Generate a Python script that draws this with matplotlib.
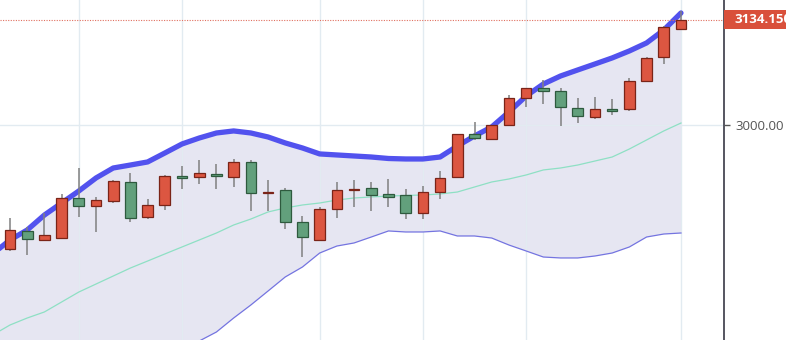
import matplotlib
matplotlib.use("Agg")
import matplotlib.pyplot as plt
import numpy as np
from matplotlib.patches import Rectangle
from matplotlib.transforms import blended_transform_factory, offset_copy

# ---------------- data ----------------
opens = [2842.0, 2865.0, 2853.5, 2856.0, 2907.0, 2896.8, 2903.2, 2927.4, 2882.8, 2898.1,
         2935.0, 2933.8, 2937.6, 2933.8, 2952.9, 2913.4, 2917.2, 2876.4, 2853.5, 2893.0,
         2917.2, 2919.7, 2912.1, 2910.8, 2887.9, 2914.6, 2933.8, 2988.5, 2982.2, 3000.0,
         3034.4, 3047.1, 3043.3, 3021.7, 3010.2, 3020.4, 3020.4, 3056.1, 3086.6, 3122.3]
highs = [2881.5, 2870.1, 2887.9, 2912.1, 2945.2, 2908.3, 2929.9, 2938.8, 2905.7, 2936.3,
         2947.8, 2955.4, 2950.3, 2956.7, 2955.4, 2929.9, 2919.7, 2884.1, 2895.5, 2927.4,
         2929.9, 2927.4, 2931.2, 2918.5, 2922.3, 2941.4, 2988.5, 3003.8, 3000.0, 3038.2,
         3047.1, 3057.3, 3047.1, 3034.4, 3035.7, 3033.1, 3059.9, 3086.6, 3126.1, 3145.2]
lows = [2839.5, 2834.4, 2852.2, 2855.0, 2882.8, 2863.7, 2900.6, 2876.4, 2880.2, 2891.7,
        2918.5, 2924.8, 2918.5, 2921.0, 2890.4, 2890.4, 2867.5, 2831.8, 2853.5, 2881.5,
        2895.5, 2890.4, 2895.5, 2880.2, 2880.2, 2905.7, 2933.8, 2980.9, 2982.2, 3000.0,
        3022.9, 3026.8, 2998.7, 3002.5, 3007.6, 3012.7, 3017.8, 3054.8, 3077.7, 3121.0]
closes = [2866.2, 2854.8, 2859.9, 2907.0, 2896.8, 2904.4, 2928.7, 2881.5, 2898.1, 2935.0,
          2932.5, 2938.8, 2935.0, 2952.9, 2913.4, 2914.6, 2876.4, 2857.3, 2893.0, 2917.2,
          2918.5, 2910.8, 2908.3, 2887.9, 2914.6, 2932.5, 2988.5, 2983.4, 3000.0, 3034.4,
          3047.1, 3043.3, 3022.9, 3011.5, 3020.4, 3017.8, 3056.1, 3085.4, 3124.9, 3134.15]

# Bollinger bands (first value belongs to the bar before the first visible candle)
band_upper = [2836.0, 2853.5, 2866.2, 2885.3, 2900.6, 2915.9, 2932.5, 2945.2, 2949.0, 2952.9,
              2964.3, 2975.8, 2983.4, 2989.8, 2992.4, 2989.8, 2984.7, 2977.1, 2970.7, 2963.1,
              2961.8, 2960.5, 2959.2, 2957.3, 2956.7, 2956.7, 2959.2, 2973.2, 2986.0, 2997.5,
              3016.6, 3036.9, 3052.2, 3062.4, 3070.1, 3077.7, 3085.4, 3094.3, 3104.5, 3121.0,
              3142.7]
band_mid = [2732.5, 2745.2, 2754.1, 2761.8, 2774.5, 2787.2, 2797.4, 2807.6, 2817.8, 2826.7,
            2835.7, 2844.6, 2853.5, 2862.4, 2872.6, 2880.2, 2889.2, 2894.3, 2898.1, 2900.6,
            2904.4, 2907.0, 2908.3, 2909.5, 2910.2, 2910.8, 2912.1, 2914.6, 2921.0, 2927.4,
            2931.2, 2936.3, 2942.7, 2945.2, 2949.0, 2954.1, 2959.2, 2969.4, 2980.9, 2992.4,
            3002.5]
band_lower = [2629.0, 2636.9, 2642.0, 2638.3, 2648.4, 2658.5, 2662.3, 2670.0, 2686.6, 2700.5,
              2707.1, 2713.4, 2724.8, 2736.3, 2754.1, 2770.7, 2788.5, 2806.4, 2819.1, 2836.9,
              2845.8, 2849.7, 2857.3, 2865.0, 2863.7, 2863.7, 2865.0, 2858.6, 2858.6, 2856.0,
              2847.1, 2839.5, 2831.8, 2830.6, 2830.6, 2833.1, 2836.9, 2844.6, 2857.3, 2861.1,
              2862.4]

grid_positions = [4, 10, 18, 24, 30, 39]
y_ticks = [3000.0]
y_tick_labels = ["3000.00"]
last_price_label = "3134.150"

# ---------------- style ----------------
UP_FILL, UP_EDGE = "#dc5641", "#7a2418"
DN_FILL, DN_EDGE = "#62a07c", "#2e5a3e"
WICK = "#808080"
BAND_FILL = "#e6e6f2"
UPPER_C = "#5252ee"
LOWER_C = "#7474e0"
MID_C = "#8ee0c4"
GRID_C = "#e2ebf1"

W, H = 786, 340
fig = plt.figure(figsize=(W / 100, H / 100), dpi=100)
ax = fig.add_axes([0, 0, 724 / W, 1])

n = len(opens)
x = np.arange(n)
xb = np.arange(-1, n)

ax.fill_between(xb, band_lower, band_upper, color=BAND_FILL, zorder=0.2, lw=0)
ax.plot(xb, band_mid, color=MID_C, lw=0.9, zorder=2)
ax.plot(xb, band_lower, color=LOWER_C, lw=0.9, zorder=2)
ax.plot(xb, band_upper, color=UPPER_C, lw=3.8, zorder=2, solid_capstyle="round")

o = np.array(opens); c = np.array(closes); hi = np.array(highs); lo = np.array(lows)
up = c >= o
ax.vlines(x, lo, hi, color=WICK, lw=1.1, zorder=3)
bottoms = np.minimum(o, c)
heights = np.maximum(np.abs(c - o), 0.8)
ax.bar(x[up], heights[up], bottom=bottoms[up], width=0.62, color=UP_FILL,
       edgecolor=UP_EDGE, linewidth=0.9, zorder=4)
ax.bar(x[~up], heights[~up], bottom=bottoms[~up], width=0.62, color=DN_FILL,
       edgecolor=DN_EDGE, linewidth=0.9, zorder=4)

ax.set_xlim(-0.58, 41.5)
ax.set_ylim(2726.1, 3159.2)

# last price line
ax.axhline(closes[-1], color="#e07060", lw=0.8, ls=(0, (1, 1.3)), zorder=2.5)

# grid
ax.set_axisbelow(True)
ax.set_xticks(grid_positions)
ax.set_yticks(y_ticks)
ax.set_yticklabels(y_tick_labels)
ax.grid(True, color=GRID_C, lw=1.0)
ax.tick_params(axis="x", length=0, labelbottom=False)
ax.yaxis.tick_right()
ax.tick_params(axis="y", length=4.5, width=1.0, color="#555555", pad=3.5,
               labelsize=9.5, labelcolor="#555555")
for lab in ax.get_yticklabels():
    lab.set_fontfamily("Open Sans")
for s in ["top", "left", "bottom"]:
    ax.spines[s].set_visible(False)
ax.spines["right"].set_color("#555560")
ax.spines["right"].set_linewidth(1.4)

# price tag
trans = blended_transform_factory(ax.transAxes, ax.transData)
px_per_unit = H / (3159.2 - 2726.1)
tag_h = 19 / px_per_unit
ax.add_patch(Rectangle((1.0, closes[-1] - tag_h / 2), 0.2, tag_h, transform=trans,
                       facecolor="#d9503b", edgecolor="none", clip_on=False, zorder=10))
ax.text(1.0, closes[-1], last_price_label, transform=offset_copy(trans, fig, x=10, y=0, units="dots"),
        va="center", ha="left", color="white", fontsize=9.5, fontweight="bold",
        family="Open Sans", zorder=11, clip_on=False)

fig.savefig("out.png", dpi=100)
